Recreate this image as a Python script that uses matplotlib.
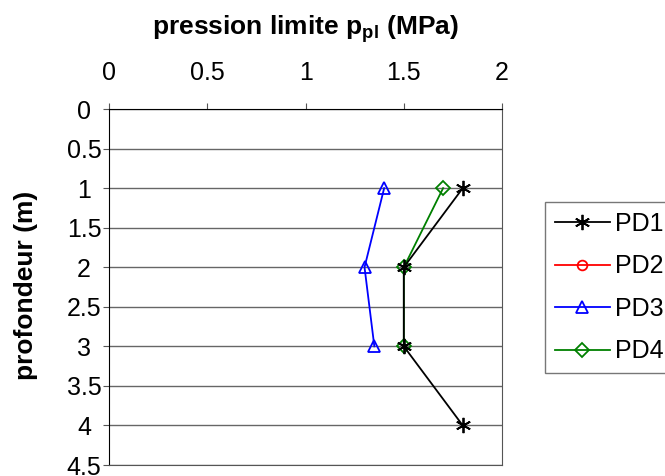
import numpy as np
import matplotlib
matplotlib.use("Agg")
import matplotlib.pyplot as plt

plt.rcParams['font.family'] = ['Liberation Sans', 'DejaVu Sans']
plt.rcParams['mathtext.fontset'] = 'custom'
plt.rcParams['mathtext.rm'] = 'Liberation Sans'
plt.rcParams['mathtext.bf'] = 'Liberation Sans:bold'

# depths (m) and limit pressures (MPa)
depth = [1, 2, 3, 4]
pd1 = [1.8, 1.5, 1.5, 1.8]
pd2 = [np.nan, np.nan, np.nan, np.nan]
pd3 = [1.4, 1.3, 1.35, np.nan]
pd4 = [1.7, 1.5, 1.5, np.nan]

xticks = [0, 0.5, 1, 1.5, 2]
yticks = [0, 0.5, 1, 1.5, 2, 2.5, 3, 3.5, 4, 4.5]

fig = plt.figure(figsize=(6.65, 4.76), dpi=100)
ax = fig.add_axes([0.164, 0.023, 0.591, 0.748])

ax.plot(pd1, depth, color='black', lw=1.3, marker=(6, 2, 0), ms=11, mew=1.3, label='PD1', zorder=5)
ax.plot(pd2, depth, color='red', lw=1.3, marker='o', ms=7, mfc='none', mew=1.3, label='PD2')
ax.plot(pd3, depth, color='blue', lw=1.3, marker='^', ms=9, mfc='none', mew=1.3, label='PD3')
ax.plot(pd4, depth, color='green', lw=1.3, marker='D', ms=7, mfc='none', mew=1.3, label='PD4', zorder=4)

ax.set_xlim(0, 2)
ax.set_ylim(4.5, 0)
ax.set_xticks(xticks)
ax.set_xticklabels(['0', '0.5', '1', '1.5', '2'])
ax.set_yticks(yticks)
ax.set_yticklabels(['0', '0.5', '1', '1.5', '2', '2.5', '3', '3.5', '4', '4.5'])
ax.xaxis.tick_top()
ax.xaxis.set_label_position('top')
ax.tick_params(axis='both', labelsize=18, length=4.3, direction='out', color='#555555')
ax.tick_params(axis='x', pad=13)
ax.tick_params(axis='y', pad=13.7)
for t in ax.get_yticklabels():
    t.set_horizontalalignment('center')

ax.yaxis.grid(True, color='#666666', lw=1)
ax.set_axisbelow(True)
for s in ['left', 'top']:
    ax.spines[s].set_color('black')
for s in ['right', 'bottom']:
    ax.spines[s].set_color('#555555')

ax.set_xlabel(r'pression limite p$_{\mathbf{pl}}$ (MPa)', fontsize=19, fontweight='bold', labelpad=19)
ax.set_ylabel('profondeur (m)', fontsize=19, fontweight='bold')
ax.yaxis.set_label_coords((38 - 109) / 393, 0.505)

leg = fig.legend(loc='center left', bbox_to_anchor=(0.8195, 0.396), fontsize=18,
                 frameon=True, fancybox=False, edgecolor='#555555', handlelength=2.2,
                 labelspacing=0.74, borderpad=0.4, handletextpad=0.2, borderaxespad=0)
leg.get_frame().set_linewidth(1)

fig.savefig('out.png', dpi=100)
